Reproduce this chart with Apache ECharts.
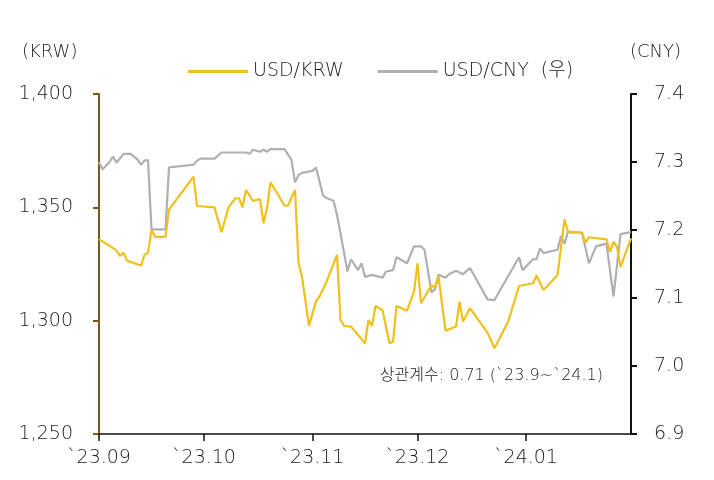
<!DOCTYPE html>
<html>
<head>
<meta charset="utf-8">
<script src="https://cdn.jsdelivr.net/npm/echarts@6/dist/echarts.min.js"></script>
<style>
  html, body { margin: 0; padding: 0; background: #fff; }
  #chart { width: 714px; height: 480px; }
</style>
</head>
<body>
<div id="chart"></div>
<script>
// USD/KRW (left axis)
const krwDates = [
  "2023-09-01", "2023-09-06", "2023-09-07", "2023-09-08", "2023-09-09", "2023-09-13",
  "2023-09-14", "2023-09-15", "2023-09-16", "2023-09-17", "2023-09-20", "2023-09-21",
  "2023-09-28", "2023-09-29", "2023-10-04", "2023-10-06", "2023-10-08", "2023-10-10",
  "2023-10-11", "2023-10-12", "2023-10-13", "2023-10-15", "2023-10-17", "2023-10-18",
  "2023-10-19", "2023-10-20", "2023-10-22", "2023-10-24", "2023-10-25", "2023-10-27",
  "2023-10-28", "2023-10-29", "2023-10-31", "2023-11-02", "2023-11-03", "2023-11-05",
  "2023-11-08", "2023-11-09", "2023-11-10", "2023-11-12", "2023-11-16", "2023-11-17",
  "2023-11-18", "2023-11-19", "2023-11-21", "2023-11-23", "2023-11-24", "2023-11-25",
  "2023-11-28", "2023-11-30", "2023-12-01", "2023-12-02", "2023-12-05", "2023-12-06",
  "2023-12-07", "2023-12-09", "2023-12-12", "2023-12-13", "2023-12-14", "2023-12-16",
  "2023-12-21", "2023-12-23", "2023-12-27", "2023-12-30", "2024-01-03", "2024-01-04",
  "2024-01-06", "2024-01-10", "2024-01-12", "2024-01-13", "2024-01-17", "2024-01-18",
  "2024-01-19", "2024-01-24", "2024-01-25", "2024-01-26", "2024-01-27", "2024-01-28",
  "2024-01-31"
];
const krwValues = [
  1336, 1331, 1328.5, 1330, 1326.5, 1324.3,
  1329, 1330, 1340, 1337, 1337, 1349,
  1363.5, 1350.6, 1350, 1339, 1350, 1354,
  1354, 1350, 1357.7, 1352.8, 1353.7, 1343,
  1349.6, 1361, 1356, 1350.7, 1350.7, 1357.7,
  1325.3, 1319.4, 1297.7, 1308.5, 1310.6, 1317.2,
  1329, 1300.3, 1297.7, 1297.4, 1290, 1300.3,
  1297.7, 1306.5, 1304.7, 1290, 1290.7, 1306.5,
  1304.4, 1312.8, 1325.3, 1307.7, 1315.7, 1314.5,
  1319.4, 1295.6, 1297.4, 1308.4, 1299.6, 1305.5,
  1294.7, 1287.8, 1300, 1315.3, 1316.5, 1319.9,
  1313.5, 1320.2, 1344.7, 1339.3, 1338.8, 1334.4,
  1336.8, 1335.9, 1330.4, 1334.9, 1332.6, 1323.6,
  1336.3
];

// USD/CNY (right axis)
const cnyDates = [
  "2023-09-01", "2023-09-02", "2023-09-04", "2023-09-05", "2023-09-06", "2023-09-08",
  "2023-09-10", "2023-09-12", "2023-09-13", "2023-09-14", "2023-09-15", "2023-09-16",
  "2023-09-20", "2023-09-21", "2023-09-28", "2023-09-29", "2023-09-30", "2023-10-04",
  "2023-10-06", "2023-10-13", "2023-10-14", "2023-10-15", "2023-10-17", "2023-10-18",
  "2023-10-19", "2023-10-20", "2023-10-24", "2023-10-26", "2023-10-27", "2023-10-28",
  "2023-10-29", "2023-11-01", "2023-11-02", "2023-11-04", "2023-11-05", "2023-11-07",
  "2023-11-08", "2023-11-09", "2023-11-11", "2023-11-12", "2023-11-14", "2023-11-15",
  "2023-11-16", "2023-11-18", "2023-11-21", "2023-11-22", "2023-11-24", "2023-11-25",
  "2023-11-28", "2023-11-30", "2023-12-02", "2023-12-03", "2023-12-05", "2023-12-06",
  "2023-12-07", "2023-12-09", "2023-12-10", "2023-12-12", "2023-12-14", "2023-12-16",
  "2023-12-21", "2023-12-23", "2023-12-30", "2023-12-31", "2024-01-03", "2024-01-04",
  "2024-01-05", "2024-01-06", "2024-01-10", "2024-01-11", "2024-01-12", "2024-01-13",
  "2024-01-17", "2024-01-19", "2024-01-21", "2024-01-24", "2024-01-26", "2024-01-28",
  "2024-01-31"
];
const cnyValues = [
  7.300, 7.289, 7.300, 7.308, 7.299, 7.312,
  7.312, 7.304, 7.296, 7.302, 7.303, 7.201,
  7.201, 7.292, 7.296, 7.302, 7.305, 7.305,
  7.314, 7.314, 7.312, 7.318, 7.315, 7.318,
  7.315, 7.319, 7.319, 7.303, 7.270, 7.281,
  7.284, 7.287, 7.292, 7.251, 7.247, 7.243,
  7.222, 7.195, 7.139, 7.157, 7.141, 7.151,
  7.131, 7.134, 7.130, 7.139, 7.141, 7.160,
  7.151, 7.176, 7.176, 7.171, 7.108, 7.113,
  7.134, 7.130, 7.135, 7.140, 7.135, 7.144,
  7.098, 7.097, 7.160, 7.141, 7.157, 7.157,
  7.173, 7.166, 7.171, 7.191, 7.180, 7.197,
  7.196, 7.151, 7.176, 7.180, 7.102, 7.194,
  7.197
];

const leftTicks = { min: 1250, max: 1400, step: 50 };
const rightTicks = { min: 6.9, max: 7.4, step: 0.1 };
const seriesNames = ["USD/KRW", "USD/CNY  (우)"];
const note = "상관계수: 0.71 (`23.9~`24.1)";

const FONT = "'DejaVu Sans', 'Noto Sans CJK KR', sans-serif";
const chart = echarts.init(document.getElementById("chart"));

chart.setOption({
  animation: false,
  textStyle: { fontFamily: FONT },
  grid: { left: 99, right: 83, top: 94, bottom: 46 },
  legend: {
    top: 57,
    left: 183,
    itemWidth: 60,
    itemHeight: 3,
    itemGap: 34,
    icon: "rect",
    textStyle: { fontSize: 19, color: "#222", fontFamily: FONT, fontWeight: 300 },
    data: seriesNames
  },
  xAxis: {
    type: "time",
    min: "2023-09-01",
    max: "2024-01-31",
    splitNumber: 5,
    minInterval: 28 * 86400000,
    axisLine: { lineStyle: { color: "#111", width: 1.5 } },
    axisTick: { show: true, length: 7, lineStyle: { color: "#111", width: 1.5 } },
    splitLine: { show: false },
    axisLabel: {
      fontSize: 19,
      fontWeight: 300,
      color: "#222",
      margin: 15,
      showMaxLabel: false,
      formatter: function (v) {
        const d = new Date(v);
        const yy = String(d.getFullYear()).slice(2);
        const mm = String(d.getMonth() + 1).padStart(2, "0");
        return "`" + yy + "." + mm;
      }
    }
  },
  yAxis: [
    {
      type: "value",
      min: leftTicks.min,
      max: leftTicks.max,
      interval: leftTicks.step,
      position: "left",
      axisLine: { show: true, lineStyle: { color: "#7a5a12", width: 2 } },
      axisTick: { show: true, length: 6, lineStyle: { color: "#7a5a12", width: 2 } },
      splitLine: { show: false },
      axisLabel: {
        fontSize: 19,
        fontWeight: 300,
        color: "#222",
        margin: 26,
        formatter: (v) => v.toLocaleString("en-US")
      }
    },
    {
      type: "value",
      min: rightTicks.min,
      max: rightTicks.max,
      interval: rightTicks.step,
      position: "right",
      axisLine: { show: true, lineStyle: { color: "#111", width: 2 } },
      axisTick: { show: true, length: 6, lineStyle: { color: "#111", width: 2 } },
      splitLine: { show: false },
      axisLabel: {
        fontSize: 19,
        fontWeight: 300,
        color: "#222",
        margin: 23,
        formatter: (v) => v.toFixed(1)
      }
    }
  ],
  graphic: [
    { type: "text", left: 22, top: 43, style: { text: "(KRW)", font: "300 18px " + FONT, fill: "#222" } },
    { type: "text", left: 630, top: 43, style: { text: "(CNY)", font: "300 18px " + FONT, fill: "#222" } },
    { type: "text", right: 111, top: 368, style: { text: note, font: "300 16px " + FONT, fill: "#222" } }
  ],
  series: [
    {
      name: seriesNames[0],
      type: "line",
      yAxisIndex: 0,
      showSymbol: false,
      z: 3,
      lineStyle: { color: "#f2c01c", width: 2.2 },
      itemStyle: { color: "#f2c01c" },
      data: krwDates.map((d, i) => [d, krwValues[i]])
    },
    {
      name: seriesNames[1],
      type: "line",
      yAxisIndex: 1,
      showSymbol: false,
      z: 2,
      lineStyle: { color: "#b0b0b0", width: 2.2 },
      itemStyle: { color: "#b0b0b0" },
      data: cnyDates.map((d, i) => [d, cnyValues[i]])
    }
  ]
});
</script>
</body>
</html>
